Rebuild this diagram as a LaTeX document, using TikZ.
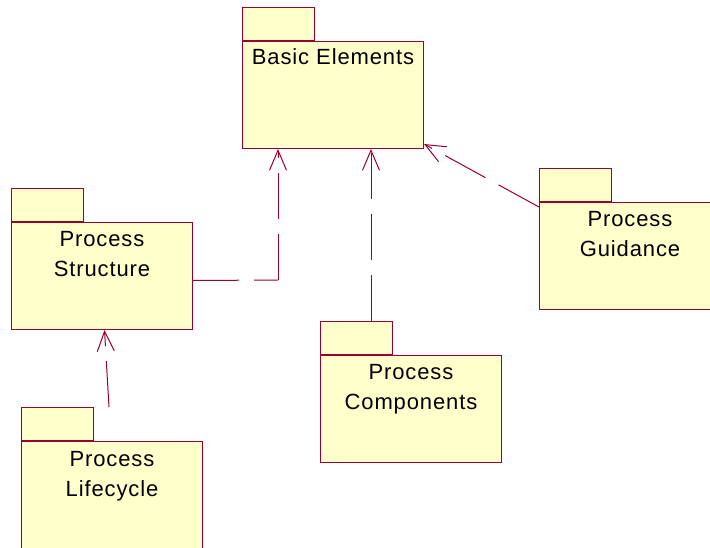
\documentclass[tikz,border=0pt]{standalone}
\usepackage{fontspec}
\setmainfont{Liberation Sans}[LetterSpace=4]
\usetikzlibrary{arrows.meta}
\definecolor{pkline}{RGB}{153,0,51}
\definecolor{pkfill}{RGB}{255,255,204}
\tikzset{
  pkgbody/.style={draw=pkline, fill=pkfill, line width=1pt, inner sep=0pt,
    anchor=north west, minimum width=181pt, minimum height=107pt},
  pkgtab/.style={draw=pkline, fill=pkfill, line width=1pt, inner sep=0pt,
    anchor=south west, minimum width=72pt, minimum height=33pt},
  pkgname/.style={anchor=north, inner sep=0pt, align=center,
    font=\fontsize{22}{29.5}\selectfont},
  dep/.style={draw=pkline, line width=1pt, dash pattern=on 46pt off 15pt},
  deparrow/.style={dep, -{Straight Barb[length=20pt,width=17pt,line width=1pt]}},
}
\begin{document}
\begin{tikzpicture}[x=1pt,y=-1pt]
\clip (0,0) rectangle (710,547);

% packages: body, tab on its upper left corner, name near the top
\node[pkgbody] (be) at (242,41) {};
\node[pkgtab] (be-tab) at (be.north west) {};
\node[pkgname] (be-name) at ([yshift=-7.3pt]be.north) {Basic Elements};

\node[pkgbody] (ps) at (11,222) {};
\node[pkgtab] (ps-tab) at (ps.north west) {};
\node[pkgname] (ps-name) at ([yshift=-9.3pt]ps.north) {Process\\Structure};

\node[pkgbody] (pl) at (21,441) {};
\node[pkgtab] (pl-tab) at (pl.north west) {};
\node[pkgname] (pl-name) at ([yshift=-10.3pt]pl.north) {Process\\Lifecycle};

\node[pkgbody] (pc) at (320,355) {};
\node[pkgtab] (pc-tab) at (pc.north west) {};
\node[pkgname] (pc-name) at ([yshift=-9.3pt]pc.north) {Process\\Components};

\node[pkgbody] (pg) at (539,202) {};
\node[pkgtab] (pg-tab) at (pg.north west) {};
\node[pkgname] (pg-name) at ([yshift=-9.3pt]pg.north) {Process\\Guidance};

% dependencies
\coordinate (ps-bend) at (278,280);
\draw[dep] ([yshift=-4.5pt]ps.east) -- (ps-bend);
\draw[deparrow] (ps-bend) -- (ps-bend |- be.south);

\coordinate (pc-out) at ([xshift=-22pt]pc-tab.north east);
\draw[deparrow] (pc-out) -- (pc-out |- be.south);

\draw[deparrow] ([yshift=-5pt]pg.north west) -- ([yshift=5pt]be.south east);

\coordinate (pl-out) at ([xshift=15pt]pl-tab.north east);
\draw[deparrow] (pl-out) -- ([xshift=2.5pt]ps.south);
\end{tikzpicture}
\end{document}
